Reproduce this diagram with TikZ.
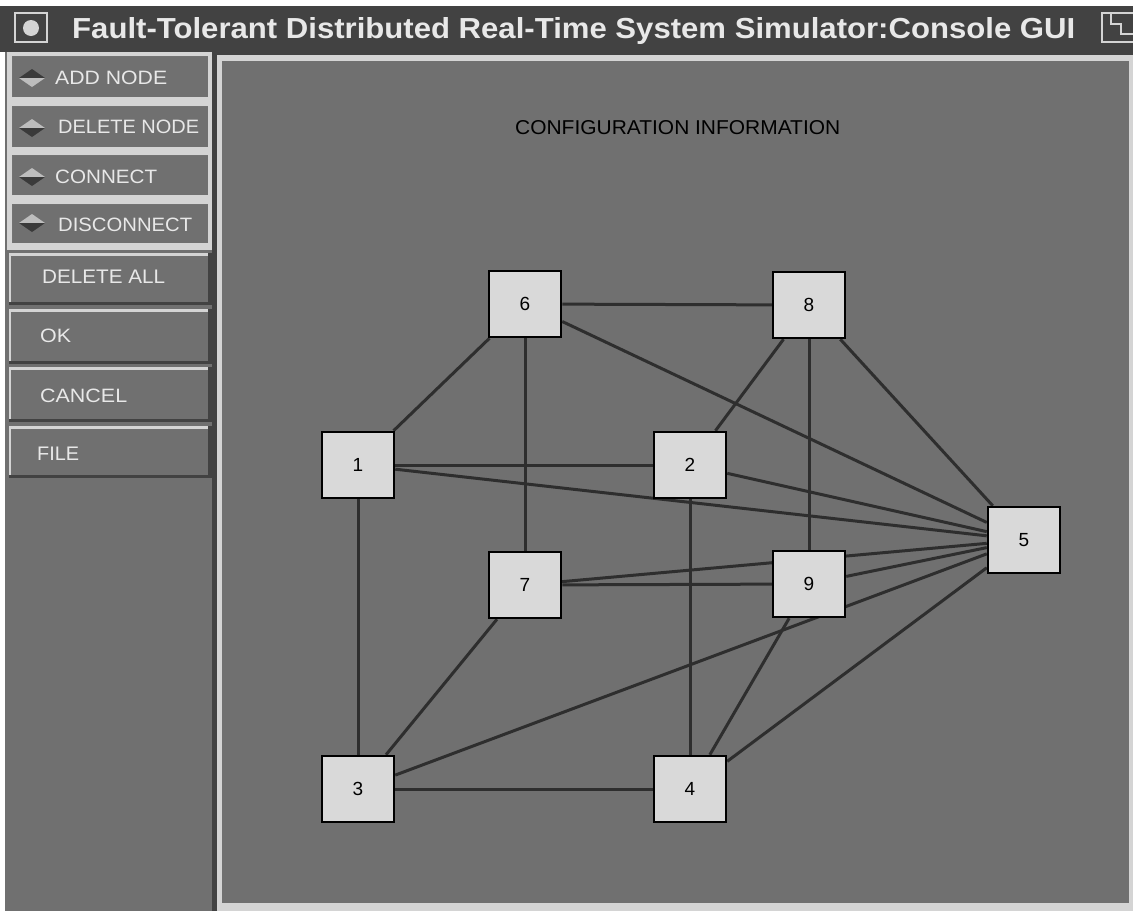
\documentclass[tikz,border=0pt]{standalone}
\usepackage{fontspec}
\setmainfont{Liberation Sans}
\usepackage{graphicx}
\definecolor{winbg}{HTML}{424242}
\definecolor{panel}{HTML}{707070}
\definecolor{lightedge}{HTML}{D4D4D4}
\definecolor{linkc}{HTML}{2E2E2E}
\definecolor{boxfill}{HTML}{D9D9D9}
\definecolor{txtlight}{HTML}{E8E8E8}
\definecolor{dmlight}{HTML}{BDBDBD}
\definecolor{dmdark}{HTML}{3A3A3A}
\pgfdeclarelayer{back}
\pgfdeclarelayer{bg}
\pgfsetlayers{back,bg,main}
\newcommand{\fitlbl}[3]{\resizebox{#1pt}{#2pt}{#3}}
\tikzset{
  sq/.style={draw=black, fill=boxfill, line width=2.5pt, minimum width=72pt, minimum height=66pt, inner sep=0pt, font=\fontsize{19pt}{19pt}\selectfont},
  link/.style={draw=linkc, line width=3pt},
  btnlbl/.style={anchor=base west, inner sep=0pt, text=txtlight},
  togbtn/.style={fill=panel},
  iconline/.style={draw=lightedge, line width=2pt},
}
\begin{document}
\begin{tikzpicture}[x=1pt,y=-1pt]
\useasboundingbox (0,0) rectangle (1133,911);
\begin{pgfonlayer}{back}
\fill[white] (0,0) rectangle (1133,911);
% window background / title bar
\fill[winbg] (0,6) rectangle (1133,911);
\fill[white] (0,52) rectangle (5,911);
% title icons
\draw[iconline] (15,13) rectangle (47,42);
\fill[lightedge] (31,28) circle (8);
\draw[iconline] (1102,13) rectangle (1140,42);
\draw[iconline] (1111,13) -- (1111,24) -- (1121,24) -- (1121,34) -- (1133,34);
\node[anchor=base west, inner sep=0pt, text=txtlight] (title) at (72,38)
  {\fitlbl{1003}{21}{\bfseries Fault-Tolerant Distributed Real-Time System Simulator:Console GUI}};
% left panel
\fill[panel] (5,52) rectangle (212,911);
\fill[lightedge] (7,52) rectangle (212,250);
\foreach \ya/\yb in {56/97, 106/147, 155/195, 204/243} {
  \fill[togbtn] (12,\ya) rectangle (208,\yb);
  \draw[black!55, line width=0.8pt] (12,\yb) -- (12,\ya) -- (208,\ya);
}
% diamonds
\fill[dmdark] (19,78) -- (32,69) -- (45,78) -- cycle;
\fill[dmlight] (19,78) -- (32,87) -- (45,78) -- cycle;
\foreach \yy in {128,177,223} {
  \fill[dmlight] (19,\yy) -- (32,\yy-9) -- (45,\yy) -- cycle;
  \fill[dmdark] (19,\yy) -- (32,\yy+9) -- (45,\yy) -- cycle;
}
% push buttons
\foreach \ya/\yb in {253/305, 309/364, 367/422, 426/478} {
  \fill[panel] (9,\ya) rectangle (210,\yb);
  \fill[lightedge] (9,\ya) rectangle (210,\ya+3);
  \fill[lightedge] (9,\ya) rectangle (11,\yb);
  \fill[winbg] (9,\yb-3) rectangle (210,\yb);
  \fill[winbg] (208,\ya) rectangle (212,\yb);
}
\node[btnlbl] (lbadd) at (55,84) {\fitlbl{112}{13.5}{ADD NODE}};
\node[btnlbl] (lbdel) at (58,133) {\fitlbl{141}{13.5}{DELETE NODE}};
\node[btnlbl] (lbcon) at (55,183) {\fitlbl{102}{13.5}{CONNECT}};
\node[btnlbl] (lbdis) at (58,231) {\fitlbl{134}{13.5}{DISCONNECT}};
\node[btnlbl] (lbdall) at (42,283) {\fitlbl{123}{13.5}{DELETE ALL}};
\node[btnlbl] (lbok) at (40,342) {\fitlbl{31}{13.5}{OK}};
\node[btnlbl] (lbcan) at (40,402) {\fitlbl{87}{13.5}{CANCEL}};
\node[btnlbl] (lbfile) at (37,460) {\fitlbl{42}{13.5}{FILE}};
% canvas
\fill[lightedge] (217,55) rectangle (1133,911);
\fill[panel] (222,61) rectangle (1129,903);
\node[anchor=base west, inner sep=0pt, text=black] (cfg) at (515,134) {\fitlbl{325}{14}{CONFIGURATION INFORMATION}};
\end{pgfonlayer}

% nodes
\node[sq] (n6) at (525,304) {6};
\node[sq] (n8) at (809,305) {8};
\node[sq] (n1) at (358,465) {1};
\node[sq] (n2) at (690,465) {2};
\node[sq] (n5) at (1024,540) {5};
\node[sq] (n7) at (525,585) {7};
\node[sq] (n9) at (809,584) {9};
\node[sq] (n3) at (358,789) {3};
\node[sq] (n4) at (690,789) {4};

\begin{pgfonlayer}{bg}
\draw[link] (n6) -- (n8);
\draw[link] (n6) -- (n1);
\draw[link] (n6) -- (n7);
\draw[link] (n6) -- (n5);
\draw[link] (n8) -- (n2);
\draw[link] (n8) -- (n9);
\draw[link] (n8) -- (n5);
\draw[link] (n1) -- (n2);
\draw[link] (n1) -- (n5);
\draw[link] (n1) -- (n3);
\draw[link] (n2) -- (n5);
\draw[link] (n2) -- (n4);
\draw[link] (n7) -- (n9);
\draw[link] (n7.center) -- (n5);
\draw[link] (n9) -- (n5);
\draw[link] (n3) -- (n5);
\draw[link] (n9) -- (n4);
\draw[link] (n4) -- (n5);
\draw[link] (n7) -- (n3);
\draw[link] (n3) -- (n4);
\end{pgfonlayer}
\end{tikzpicture}
\end{document}
